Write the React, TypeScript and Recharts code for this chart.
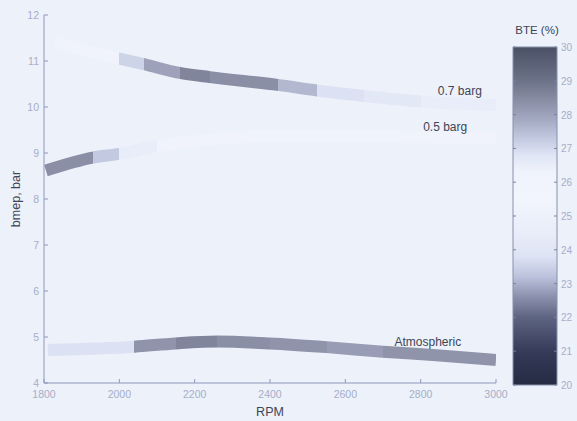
import React from 'react';
import { ComposedChart, Line, XAxis, YAxis, Bar, ReferenceDot, Label } from 'recharts';

// ---- data ----
const rpmTicks = [1800, 2000, 2200, 2400, 2600, 2800, 3000];
const bmepTicks = [4, 5, 6, 7, 8, 9, 10, 11, 12];
const bteTicks = [20, 21, 22, 23, 24, 25, 26, 27, 28, 29, 30];

const atmoRpm = [1810, 2040, 2150, 2260, 2400, 2550, 2700, 2850, 3000];
const atmoBmep = [4.72, 4.79, 4.86, 4.9, 4.86, 4.78, 4.68, 4.6, 4.5];
const atmoBte = [26.85, 28.3, 28.6, 28.4, 28.3, 28.1, 28.3, 28.3];

const b05Rpm = [1805, 1930, 2000, 2100, 2250, 2400, 2600, 2800, 3000];
const b05Bmep = [8.62, 8.9, 8.98, 9.15, 9.3, 9.37, 9.37, 9.35, 9.32];
const b05Bte = [28.4, 27.3, 26.5, 26.3, 26.3, 26.3, 26.3, 26.3];

const b07Rpm = [1830, 1900, 2000, 2065, 2160, 2240, 2420, 2525, 2650, 2800, 3000];
const b07Bmep = [11.42, 11.25, 11.05, 10.93, 10.74, 10.65, 10.48, 10.36, 10.24, 10.12, 10.04];
const b07Bte = [26.2, 26.3, 27.1, 28.0, 28.6, 28.4, 27.6, 26.85, 26.7, 26.5];

const seriesNames = ['Atmospheric', '0.5 barg', '0.7 barg'];
const seriesRpm = [atmoRpm, b05Rpm, b07Rpm];
const seriesBmep = [atmoBmep, b05Bmep, b07Bmep];
const seriesBte = [atmoBte, b05Bte, b07Bte];
const labelRpm = [2819, 2865, 2904];
const labelBmep = [4.9, 9.57, 10.35];

// ---- styles ----
const BG = '#edf1fa';
const AXIS = '#8f98bb';
const TICK = '#a6aec8';
const DARK = '#3e4556';
const FONT = '"Liberation Sans", Arial, sans-serif';

const cmapStops: [number, string][] = [
  [20, '#252b43'],
  [21, '#353b58'],
  [22, '#5d6482'],
  [22.6, '#8a90ac'],
  [23.2, '#bcc2dc'],
  [23.8, '#dde3f4'],
  [24.5, '#e9edf9'],
  [25.5, '#f2f5fd'],
  [26.3, '#f0f3fc'],
  [26.8, '#dfe5f5'],
  [27.3, '#c2c9e0'],
  [27.8, '#a6acc4'],
  [28.4, '#8a8fa6'],
  [29, '#6c7288'],
  [30, '#4a5066'],
];

function hexToRgb(h: string) {
  const n = parseInt(h.slice(1), 16);
  return [(n >> 16) & 255, (n >> 8) & 255, n & 255];
}
function cmap(v: number): string {
  if (v <= cmapStops[0][0]) return cmapStops[0][1];
  for (let i = 0; i < cmapStops.length - 1; i++) {
    const [a, ca] = cmapStops[i];
    const [b, cb] = cmapStops[i + 1];
    if (v >= a && v <= b) {
      const t = (v - a) / (b - a);
      const A = hexToRgb(ca);
      const B = hexToRgb(cb);
      const c = A.map((x, k) => Math.round(x + (B[k] - x) * t));
      return `rgb(${c[0]},${c[1]},${c[2]})`;
    }
  }
  return cmapStops[cmapStops.length - 1][1];
}

const seriesData = seriesRpm.map((r, s) => r.map((x, i) => ({ rpm: x, bmep: seriesBmep[s][i] })));

function gradientStops(s: number) {
  const r = seriesRpm[s];
  const b = seriesBte[s];
  const r0 = r[0];
  const span = r[r.length - 1] - r0;
  const out: JSX.Element[] = [];
  for (let i = 0; i < b.length; i++) {
    const c = cmap(b[i]);
    out.push(<stop key={`a${i}`} offset={(r[i] - r0) / span} stopColor={c} />);
    out.push(<stop key={`b${i}`} offset={(r[i + 1] - r0) / span} stopColor={c} />);
  }
  return out;
}

const BottomTick = (p: any) => (
  <g>
    <line x1={p.x} x2={p.x} y1={p.y} y2={p.y - 4} stroke={AXIS} strokeWidth={1} />
    <text x={p.x} y={p.y + 15} textAnchor="middle" fill={TICK} fontSize={10.5} fontFamily={FONT}>
      {p.payload.value}
    </text>
  </g>
);
const LeftTick = (p: any) => (
  <g>
    <line x1={p.x} x2={p.x + 4} y1={p.y} y2={p.y} stroke={AXIS} strokeWidth={1} />
    <text x={p.x - 5} y={p.y + 4} textAnchor="end" fill={TICK} fontSize={10.5} fontFamily={FONT}>
      {p.payload.value}
    </text>
  </g>
);
const TopTick = (p: any) => (
  <line x1={p.x} x2={p.x} y1={p.y} y2={p.y + 4} stroke={AXIS} strokeWidth={1} />
);
const RightTick = (p: any) => (
  <line x1={p.x} x2={p.x - 4} y1={p.y} y2={p.y} stroke={AXIS} strokeWidth={1} />
);
const CbTick = (p: any) => (
  <g>
    <line x1={p.x} x2={p.x - 3} y1={p.y} y2={p.y} stroke="#7a82a0" strokeWidth={1} />
    <line x1={p.x - 44} x2={p.x - 41} y1={p.y} y2={p.y} stroke="#7a82a0" strokeWidth={1} />
    <text x={p.x + 4} y={p.y + 4} textAnchor="start" fill={TICK} fontSize={10} fontFamily={FONT}>
      {p.payload.value}
    </text>
  </g>
);

const cbData = [{ name: 'BTE', range: [20, 30] }];

export default function App() {
  return (
    <div style={{ position: 'absolute', left: 0, top: 0, width: 577, height: 421, background: BG, fontFamily: FONT }}>
      <ComposedChart
        width={577}
        height={421}
        margin={{ top: 15, right: 81, bottom: 0, left: 0 }}
        style={{ position: 'absolute', left: 0, top: 0 }}
      >
        <defs>
          {seriesNames.map((n, s) => (
            <linearGradient key={n} id={`grad${s}`} x1="0" y1="0" x2="1" y2="0">
              {gradientStops(s)}
            </linearGradient>
          ))}
        </defs>
        <XAxis
          type="number"
          dataKey="rpm"
          domain={[1800, 3000]}
          ticks={rpmTicks}
          allowDataOverflow
          height={38}
          tickSize={0}
          tickMargin={0}
          tickLine={false}
          axisLine={{ stroke: AXIS }}
          tick={<BottomTick />}
          interval={0}
        >
          <Label value="RPM" position="insideBottom" offset={5} fill={DARK} fontSize={12.5} fontFamily={FONT} />
        </XAxis>
        <XAxis
          xAxisId="top"
          orientation="top"
          type="number"
          domain={[1800, 3000]}
          ticks={rpmTicks}
          height={0}
          tickSize={0}
          tickMargin={0}
          tickLine={false}
          axisLine={{ stroke: AXIS }}
          tick={<TopTick />}
          interval={0}
        />
        <YAxis
          type="number"
          domain={[4, 12]}
          ticks={bmepTicks}
          width={44}
          tickSize={0}
          tickMargin={0}
          tickLine={false}
          axisLine={{ stroke: AXIS }}
          tick={<LeftTick />}
          interval={0}
        >
          <Label value="bmep, bar" angle={-90} position="center" dx={-6} fill={DARK} fontSize={12.5} fontFamily={FONT} />
        </YAxis>
        <YAxis
          yAxisId="right"
          orientation="right"
          type="number"
          domain={[4, 12]}
          ticks={bmepTicks}
          width={0}
          tickSize={0}
          tickMargin={0}
          tickLine={false}
          axisLine={{ stroke: AXIS }}
          tick={<RightTick />}
          interval={0}
        />
        {seriesNames.map((n, s) => (
          <Line
            key={n}
            data={seriesData[s]}
            dataKey="bmep"
            type="monotone"
            stroke={`url(#grad${s})`}
            strokeWidth={12}
            strokeLinecap="butt"
            strokeLinejoin="round"
            dot={false}
            activeDot={false}
            isAnimationActive={false}
          />
        ))}
        {seriesNames.map((n, s) => (
          <ReferenceDot key={`l${n}`} x={labelRpm[s]} y={labelBmep[s]} r={0} fill="none" stroke="none">
            <Label value={n} position="center" fill={DARK} fontSize={12} fontFamily={FONT} />
          </ReferenceDot>
        ))}
      </ComposedChart>

      <div
        style={{
          position: 'absolute',
          left: 513,
          top: 24,
          width: 48,
          textAlign: 'center',
          fontSize: 11.5,
          color: DARK,
          fontFamily: FONT,
          whiteSpace: 'nowrap',
        }}
      >
        BTE (%)
      </div>

      <ComposedChart
        width={72}
        height={421}
        data={cbData}
        margin={{ top: 47, right: 0, bottom: 36, left: 8 }}
        barCategoryGap={0}
        style={{ position: 'absolute', left: 505, top: 0 }}
      >
        <defs>
          <linearGradient id="cbgrad" x1="0" y1="0" x2="0" y2="1">
            {cmapStops
              .slice()
              .reverse()
              .map(([v, c]) => (
                <stop key={v} offset={(30 - v) / 10} stopColor={c} />
              ))}
          </linearGradient>
        </defs>
        <XAxis dataKey="name" hide />
        <YAxis
          orientation="right"
          type="number"
          domain={[20, 30]}
          ticks={bteTicks}
          width={20}
          tickSize={0}
          tickMargin={0}
          tickLine={false}
          axisLine={false}
          tick={<CbTick />}
          interval={0}
        />
        <Bar dataKey="range" fill="url(#cbgrad)" stroke="#8890aa" strokeWidth={1} isAnimationActive={false} />
      </ComposedChart>
    </div>
  );
}
